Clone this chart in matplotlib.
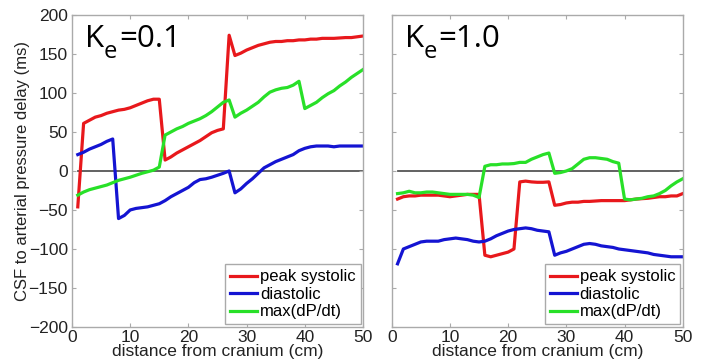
import matplotlib
matplotlib.use("Agg")
import matplotlib.pyplot as plt

x = list(range(1, 51))

left_peak = [-46, 61, 65, 69, 71, 74, 76, 78, 79, 81, 84, 87, 90, 92, 92,
             14, 18, 23, 27, 31, 35, 39, 44, 49, 52, 54,
             174, 148, 151, 155, 158, 161, 163, 165, 166, 166, 167, 167, 168, 168,
             169, 169, 170, 170, 170, 170.5, 171, 171, 172, 173]
left_dias = [21, 24, 28, 31, 34, 38, 41,
             -61, -57, -50, -48, -47, -46, -44, -42, -38, -33, -29, -25, -21,
             -15, -11, -10, -8, -5.5, -3, 0,
             -28, -23, -16, -10, -3, 4, 8, 12, 15, 18, 21, 26, 29,
             31, 32, 32, 32, 31, 32, 32, 32, 32, 32]
left_dpdt = [-31, -27, -24, -22, -20, -18, -15, -12, -10, -8, -5.5, -3, -1, 1, 5,
             46, 50, 54, 57, 61, 64, 67, 71, 76, 82, 88, 91,
             69, 74, 78, 83, 88, 95, 101, 104, 106, 107, 110, 115,
             80, 84, 88, 94, 99, 103, 109, 114, 120, 125, 130]

right_peak = [-36, -33, -32, -32, -31, -31, -31, -31, -32, -33, -32, -31, -30, -30, -30,
              -108, -110, -108, -106, -104, -100,
              -14, -13, -14, -14.5, -14.5, -14,
              -44, -43, -41, -40, -40, -39, -39, -38.5, -38, -38, -38, -38, -38,
              -37, -36, -35.5, -35, -34, -33, -33, -32, -32, -29]
right_dias = [-119, -100, -97, -94, -91, -90, -90, -90, -88, -87, -86, -87, -88, -90, -91,
              -90, -87, -83, -80, -77, -75, -74, -73, -74, -76, -77, -78,
              -108, -105, -103, -100, -97, -94, -93, -94, -96, -97, -98, -100, -101,
              -102, -103, -104, -105, -107, -108, -109, -110, -110, -110]
right_dpdt = [-29, -28, -26, -28, -28, -27, -27, -28, -29, -30, -30, -30, -30, -31, -34,
              6, 8, 8, 9, 9, 9.5, 11, 11, 15, 18, 21, 23,
              -3, -2, 0, 3, 9, 15, 17, 17, 16, 15, 12, 10,
              -36, -37, -36, -35, -33, -32, -29, -25, -19, -14, -10]

labels = ["peak systolic", "diastolic", "max(dP/dt)"]
colors = ["#e8181c", "#1414d2", "#28e028"]
panel_values = ["0.1", "1.0"]

plt.rcParams['font.family'] = ['Liberation Sans', 'DejaVu Sans']

fig = plt.figure(figsize=(7.09, 3.62), dpi=100)
ax1 = fig.add_axes([0.1015, 0.0967, 0.4105, 0.862])
ax2 = fig.add_axes([0.5525, 0.0967, 0.4105, 0.862])
renderer = fig.canvas.get_renderer()


def place_label(ax, value):
    kfam = ['Open Sans', 'DejaVu Sans']
    x0, y0 = 0.046, 0.897
    t1 = ax.text(x0, y0, "K", transform=ax.transAxes, fontsize=22.5, family=kfam,
                 va='baseline', ha='left')
    bb = t1.get_window_extent(renderer=renderer)
    inv = ax.transAxes.inverted()
    x1 = inv.transform((bb.x1 - 1, 0))[0]
    y1 = inv.transform((0, ax.transAxes.transform((0, y0))[1] - 11))[1]
    t2 = ax.text(x1, y1, "e", transform=ax.transAxes, fontsize=17, family=kfam,
                 va='baseline', ha='left')
    bb2 = t2.get_window_extent(renderer=renderer)
    x2 = inv.transform((bb2.x1 + 2, 0))[0]
    ax.text(x2, y0, "=" + value, transform=ax.transAxes, fontsize=22.5, family=kfam,
            va='baseline', ha='left')


for ax, series, value, showy in [
        (ax1, [left_peak, left_dias, left_dpdt], panel_values[0], True),
        (ax2, [right_peak, right_dias, right_dpdt], panel_values[1], False)]:
    ax.plot([x[0], x[-1]], [0, 0], color="#555555", lw=1.3, zorder=1)
    for s, c, lab in zip(series, colors, labels):
        ax.plot(x, s, color=c, lw=2.3, label=lab, zorder=2)
    ax.set_xlim(0, 50)
    ax.set_ylim(-200, 200)
    ax.set_xticks(range(0, 51, 10))
    ax.set_yticks(range(-200, 201, 50))
    ax.tick_params(direction='in', length=3, color="#aaaaaa", top=True, right=True,
                   labelsize=12.5, labelcolor="#222222")
    ax.tick_params(axis='x', pad=2)
    ax.tick_params(axis='y', pad=3)
    if not showy:
        ax.set_yticklabels([])
    for sp in ax.spines.values():
        sp.set_color("#aaaaaa")
        sp.set_linewidth(1.0)
    ax.set_xlabel("distance from cranium (cm)", fontsize=12.5, labelpad=-0.5, color="#222222")
    place_label(ax, value)
    leg = ax.legend(loc='lower right', fontsize=12, handlelength=1.65, handletextpad=0.15,
                    borderpad=0.3, labelspacing=0.15, borderaxespad=0.15, fancybox=False,
                    edgecolor="#aaaaaa", framealpha=1)
    leg.get_frame().set_linewidth(1.0)

ax1.set_ylabel("CSF to arterial pressure delay (ms)", fontsize=12, labelpad=-1, color="#222222")

fig.savefig("out.png", dpi=100)
